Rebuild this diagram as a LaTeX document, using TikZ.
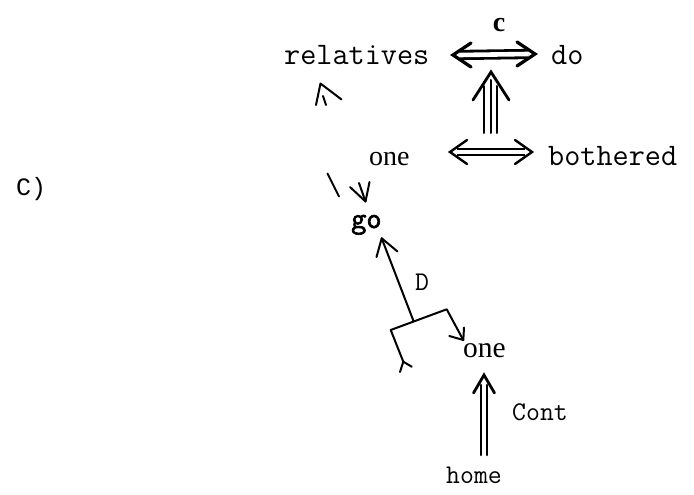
\documentclass[tikz,border=0pt]{standalone}
\usepackage{fontspec}
\setmainfont{Liberation Serif}
\newfontfamily\ocrfont{Liberation Mono}
\newfontfamily\gofont[AutoFakeBold=2.2]{Latin Modern Mono}
\usetikzlibrary{calc}
\begin{document}
\begin{tikzpicture}[x=1pt,y=-1pt,
  txt/.style={inner sep=0pt, anchor=base west},
  big/.style={txt, font=\ttfamily\fontsize{31.3}{34}\selectfont},
  mid/.style={txt, font=\ttfamily\fontsize{27}{30}\selectfont},
  ser/.style={txt, font=\rmfamily\fontsize{28}{30}\selectfont},
  ln/.style={line width=2pt, line cap=round, line join=round},
  hd/.style={line width=2.8pt, line cap=round, line join=miter},
  dbl/.style={line width=2.8pt, double=white, double distance=4.6pt},
]
\useasboundingbox (0,0) rectangle (694,495);
% texts
\node[big] (rel) at (284,65) {relatives};
\node[big] (do) at (551,65) {do};
\node[inner sep=0pt, anchor=base, font=\rmfamily\bfseries\fontsize{28}{30}\selectfont] (c) at (499,32) {c};
\node[ser] (one1) at (369,165) {one};
\node[big] (both) at (548,165) {bothered};
\node[txt, font=\ocrfont\fontsize{25}{28}\selectfont] (C) at (16,195) {C)};
\node[txt, font=\gofont\bfseries\fontsize{29.5}{32}\selectfont] (go) at (351,228) {go};
\node[mid] (D) at (415,290) {D};
\node[txt, font=\rmfamily\fontsize{29.5}{30}\selectfont] (one2) at (463,357) {one};
\node[mid] (cont) at (512,420) {Cont};
\node[mid] (home) at (446,483) {home};
% top double arrow relatives <-> do
\coordinate (a1) at (453,55);
\coordinate (a2) at (535,54);
\draw[dbl] ($(a1)+(7,0)$) -- ($(a2)+(-7,0)$);
\draw[hd, line width=3.2pt] ($(a1)+(18,-12)$) -- (a1) -- ($(a1)+(18,12)$);
\draw[hd, line width=3.2pt] ($(a2)+(-18,-12)$) -- (a2) -- ($(a2)+(-18,12)$);
% lower double arrow one <-> bothered
\coordinate (b1) at (450,152);
\coordinate (b2) at (532,152);
\draw[dbl, line width=2.2pt, double distance=4.2pt] ($(b1)+(7,0)$) -- ($(b2)+(-7,0)$);
\draw[hd, line width=2.4pt] ($(b1)+(17,-12)$) -- (b1) -- ($(b1)+(17,12)$);
\draw[hd, line width=2.4pt] ($(b2)+(-17,-12)$) -- (b2) -- ($(b2)+(-17,12)$);
% triple arrow up
\coordinate (t1) at (491,72);
\coordinate (t0) at (490.5,133);
\draw[ln] ($(t0)+(-6.2,0)$) -- ($(t0)+(-6.2,-47)$);
\draw[ln] (t0) -- ($(t0)+(0,-53)$);
\draw[ln] ($(t0)+(6.2,0)$) -- ($(t0)+(6.2,-47)$);
\draw[hd] ($(t1)+(-18,28)$) -- (t1) -- ($(t1)+(18,28)$);
% small arrowhead below relatives
\coordinate (r1) at (320.5,83.5);
\draw[ln] (316,105) -- (r1) -- (341.5,99.5);
\draw[ln] (323,96) -- (326,105);
% stroke and arrowhead above go
\coordinate (s1) at (327.5,173.5);
\coordinate (s2) at (339,196.5);
\draw[ln] (s1) -- (s2);
\coordinate (v) at (365.5,201.5);
\draw[ln] (350,187) -- (v) -- (369.5,182);
\draw[ln] (359,183) -- (v);
% D structure
\coordinate (gtip) at (381.7,238.3);
\coordinate (j) at (413.5,321);
\coordinate (bl) at (390.7,330);
\coordinate (br) at (446.7,309.3);
\coordinate (otip) at (463.3,340);
\coordinate (f) at (403.3,361.7);
\draw[ln] (j) -- (gtip);
\draw[ln] (376.5,257) -- (gtip) -- (397.5,251.5);
\draw[ln] (f) -- (bl) -- (br) -- (otip);
\draw[ln] (449.3,336) -- (otip) -- (464,327.5);
\draw[ln] (400,372) -- (f) -- (411.7,366.7);
% home => one
\coordinate (h1) at (484,375);
\coordinate (h0) at (484,455);
\draw[ln, line width=2.5pt] ($(h0)+(-3,0)$) -- ($(h0)+(-3,-70)$);
\draw[ln, line width=2.5pt] ($(h0)+(3,0)$) -- ($(h0)+(3,-70)$);
\draw[hd] ($(h1)+(-10.5,18)$) -- (h1) -- ($(h1)+(10.5,18)$);
\end{tikzpicture}
\end{document}
